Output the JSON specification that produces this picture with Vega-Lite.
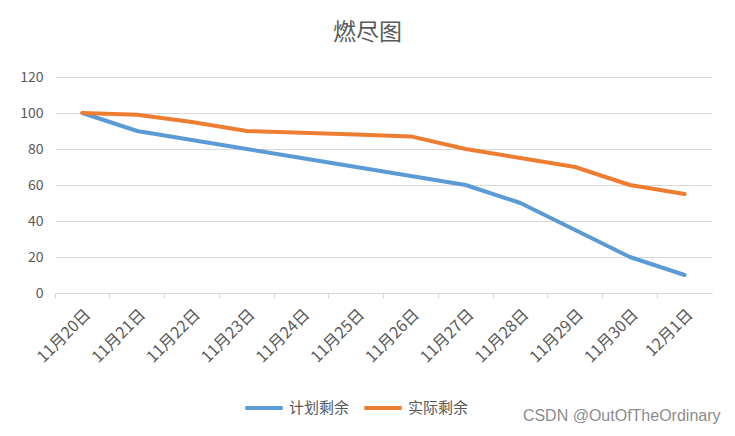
{
  "$schema": "https://vega.github.io/schema/vega-lite/v6.json",
  "autosize": "none",
  "width": 657,
  "height": 216,
  "padding": {"left": 55, "top": 77, "right": 23, "bottom": 143},
  "background": "white",
  "title": {
    "text": "燃尽图",
    "font": "Noto Sans CJK SC",
    "fontSize": 23,
    "fontWeight": "normal",
    "color": "#595959",
    "offset": 25,
    "dx": -16
  },
  "data": {
    "values": [
      {"date": "11月20日", "series": "计划剩余", "value": 100},
      {"date": "11月21日", "series": "计划剩余", "value": 90},
      {"date": "11月22日", "series": "计划剩余", "value": 85},
      {"date": "11月23日", "series": "计划剩余", "value": 80},
      {"date": "11月24日", "series": "计划剩余", "value": 75},
      {"date": "11月25日", "series": "计划剩余", "value": 70},
      {"date": "11月26日", "series": "计划剩余", "value": 65},
      {"date": "11月27日", "series": "计划剩余", "value": 60},
      {"date": "11月28日", "series": "计划剩余", "value": 50},
      {"date": "11月29日", "series": "计划剩余", "value": 35},
      {"date": "11月30日", "series": "计划剩余", "value": 20},
      {"date": "12月1日", "series": "计划剩余", "value": 10},
      {"date": "11月20日", "series": "实际剩余", "value": 100},
      {"date": "11月21日", "series": "实际剩余", "value": 99},
      {"date": "11月22日", "series": "实际剩余", "value": 95},
      {"date": "11月23日", "series": "实际剩余", "value": 90},
      {"date": "11月24日", "series": "实际剩余", "value": 89},
      {"date": "11月25日", "series": "实际剩余", "value": 88},
      {"date": "11月26日", "series": "实际剩余", "value": 87},
      {"date": "11月27日", "series": "实际剩余", "value": 80},
      {"date": "11月28日", "series": "实际剩余", "value": 75},
      {"date": "11月29日", "series": "实际剩余", "value": 70},
      {"date": "11月30日", "series": "实际剩余", "value": 60},
      {"date": "12月1日", "series": "实际剩余", "value": 55}
    ]
  },
  "mark": {"type": "line", "strokeWidth": 4, "strokeCap": "round", "strokeJoin": "round"},
  "encoding": {
    "x": {
      "field": "date",
      "type": "ordinal",
      "sort": null,
      "bandPosition": 0.5,
      "scale": {"type": "band", "paddingInner": 0, "paddingOuter": 0},
      "axis": {
        "title": "CSDN @OutOfTheOrdinary",
        "titleFont": "Liberation Sans",
        "titleFontSize": 16,
        "titleFontWeight": "normal",
        "titleColor": "#8c8c8c",
        "titleAnchor": "end",
        "titleAlign": "right",
        "titleX": 665,
        "titleY": 114,
        "labelAngle": -45,
        "labelAlign": "right",
        "labelBaseline": "top",
        "labelFont": "Noto Sans CJK SC",
        "labelFontSize": 16,
        "labelColor": "#595959",
        "labelPadding": 8,
        "bandPosition": 0,
        "domainColor": "#d9d9d9",
        "tickColor": "#d9d9d9",
        "tickSize": 5,
        "grid": false
      }
    },
    "y": {
      "field": "value",
      "type": "quantitative",
      "scale": {"domain": [0, 120]},
      "axis": {
        "title": null,
        "values": [0, 20, 40, 60, 80, 100, 120],
        "labelFont": "Noto Sans CJK SC",
        "labelFontSize": 14,
        "labelColor": "#595959",
        "labelPadding": 12,
        "domain": false,
        "ticks": false,
        "gridColor": "#d9d9d9",
        "gridWidth": 1
      }
    },
    "color": {
      "field": "series",
      "type": "nominal",
      "sort": ["计划剩余", "实际剩余"],
      "scale": {"domain": ["计划剩余", "实际剩余"], "range": ["#5B9BD5", "#ED7D31"]},
      "legend": {
        "title": null,
        "orient": "none",
        "direction": "horizontal",
        "legendX": 188,
        "legendY": 310,
        "symbolType": "stroke",
        "symbolSize": 1400,
        "symbolStrokeWidth": 4,
        "labelFont": "Noto Sans CJK SC",
        "labelFontSize": 15,
        "labelColor": "#595959",
        "columnPadding": 6,
        "labelOffset": 4
      }
    }
  },
  "config": {
    "view": {"stroke": null}
  }
}
